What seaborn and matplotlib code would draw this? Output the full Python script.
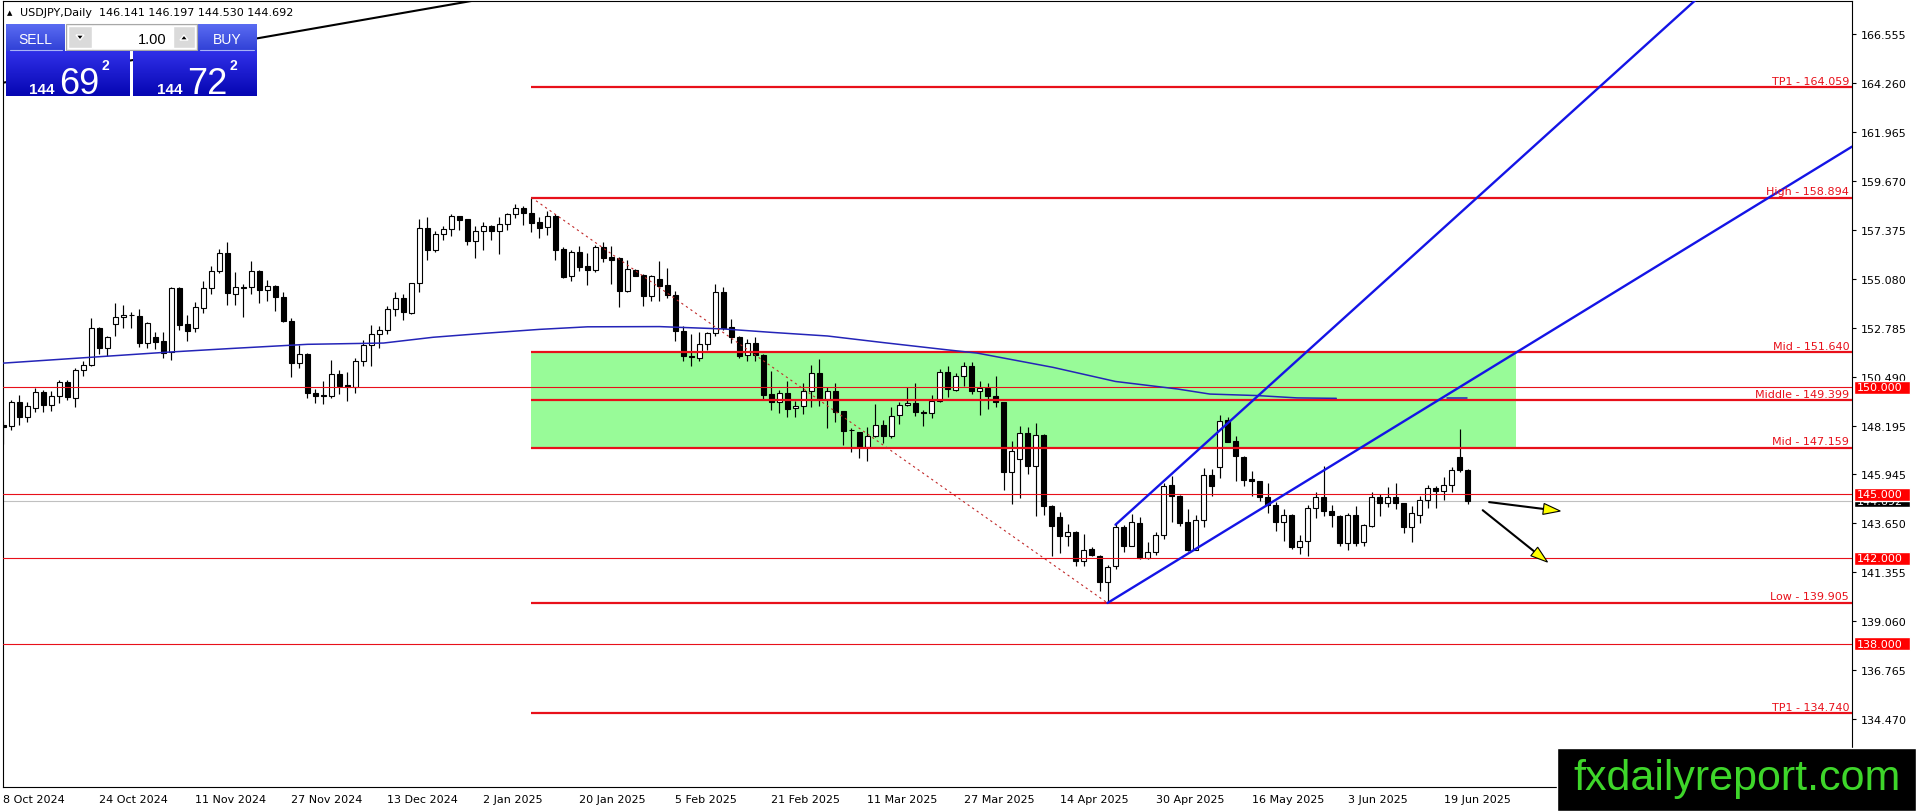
import numpy as np
import matplotlib
matplotlib.use("Agg")
import matplotlib.pyplot as plt
from matplotlib.patches import Rectangle, Polygon
from matplotlib.colors import LinearSegmentedColormap
import seaborn as sns

# USDJPY daily candles, bar 0 = 8 Oct 2024 ... bar 183 = 24 Jun 2025
opens = [148.24, 148.21, 149.30, 148.60, 149.02, 149.77, 149.19, 149.62, 150.24, 149.49,
         150.83, 151.07, 152.78, 151.83, 152.96, 153.28, 153.40, 153.36, 152.07, 152.35,
         152.16, 151.65, 154.67, 152.96, 152.77, 153.74, 154.64, 155.47, 156.30, 154.38,
         154.69, 154.69, 155.44, 154.56, 154.77, 154.22, 153.13, 151.13, 151.57, 149.74,
         149.63, 149.60, 150.61, 150.11, 150.04, 151.22, 151.99, 152.49, 152.69, 153.66,
         154.17, 153.47, 154.87, 157.47, 156.45, 157.17, 157.40, 158.01, 157.89, 156.87,
         157.31, 157.55, 157.34, 157.64, 158.11, 158.39, 158.15, 157.73, 157.50, 158.01,
         156.48, 155.20, 156.36, 155.67, 155.52, 156.56, 156.09, 156.05, 154.53, 155.52,
         155.27, 154.30, 155.08, 154.80, 154.35, 152.63, 151.49, 151.36, 152.02, 152.53,
         154.46, 152.82, 152.38, 151.52, 152.07, 151.52, 149.68, 149.30, 149.72, 149.02,
         149.12, 149.82, 150.66, 149.46, 149.82, 148.88, 148.03, 147.90, 147.20, 147.71,
         148.24, 147.74, 148.71, 149.18, 149.27, 148.85, 148.80, 149.35, 150.71, 149.90,
         150.55, 151.02, 149.82, 149.96, 149.62, 149.30, 146.06, 146.65, 147.85, 146.31,
         147.77, 144.43, 143.92, 143.03, 143.21, 141.86, 142.43, 142.12, 140.87, 141.62,
         143.45, 142.59, 143.65, 142.00, 142.31, 143.09, 145.43, 144.90, 143.68, 142.40,
         143.81, 145.92, 146.26, 148.47, 147.51, 146.76, 145.71, 145.60, 144.85, 144.51,
         143.68, 144.04, 142.51, 142.82, 144.34, 144.85, 144.20, 143.99, 142.70, 144.03,
         142.75, 143.53, 144.85, 144.57, 144.85, 144.57, 143.48, 144.03, 144.74, 145.27,
         145.13, 145.45, 146.73, 146.141]
highs = [148.44, 149.41, 149.65, 149.30, 149.96, 149.90, 149.82, 150.36, 150.35, 150.90,
         151.25, 153.24, 152.85, 152.43, 153.96, 153.88, 153.52, 153.67, 153.08, 152.58,
         152.58, 154.72, 154.72, 153.41, 153.99, 155.00, 155.70, 156.48, 156.80, 155.39,
         154.85, 155.91, 155.50, 155.05, 154.80, 154.49, 153.25, 151.99, 151.60, 149.93,
         150.29, 151.28, 150.82, 150.71, 151.38, 152.22, 152.92, 152.89, 153.83, 154.49,
         154.38, 154.90, 157.89, 157.97, 157.31, 157.56, 158.12, 158.05, 157.90, 157.58,
         157.73, 157.60, 158.00, 158.17, 158.59, 158.48, 158.894, 158.00, 158.25, 158.12,
         156.56, 156.44, 156.64, 156.28, 156.69, 156.80, 156.61, 156.10, 155.99, 155.55,
         155.30, 155.27, 155.94, 155.60, 154.50, 152.89, 152.50, 152.58, 152.61, 154.85,
         154.69, 153.21, 152.43, 152.27, 152.35, 151.55, 150.76, 149.88, 150.32, 149.38,
         150.19, 151.05, 151.33, 150.01, 150.21, 148.90, 148.09, 147.92, 148.13, 149.23,
         148.48, 149.07, 149.30, 150.01, 150.21, 148.96, 149.66, 150.86, 151.02, 150.66,
         151.18, 151.21, 150.29, 150.19, 150.52, 149.32, 147.48, 148.18, 148.13, 148.34,
         147.80, 144.49, 144.15, 143.60, 143.29, 143.14, 142.51, 142.14, 141.68, 143.60,
         143.57, 144.07, 143.92, 142.78, 143.21, 145.53, 145.87, 144.96, 144.31, 144.03,
         146.21, 146.18, 148.71, 148.60, 147.71, 146.81, 146.10, 145.62, 145.53, 144.62,
         144.31, 144.07, 143.09, 144.49, 145.09, 146.31, 144.49, 144.03, 144.10, 144.46,
         143.60, 145.09, 145.01, 145.32, 145.51, 144.60, 144.46, 144.93, 145.43, 145.40,
         145.79, 146.26, 148.05, 146.197]
lows = [147.35, 148.02, 148.26, 148.40, 148.83, 148.87, 148.91, 149.26, 149.41, 149.10,
        150.52, 151.02, 151.57, 151.46, 152.43, 152.80, 152.80, 151.88, 151.83, 151.80,
        151.36, 151.30, 152.71, 152.18, 152.58, 153.47, 154.38, 155.36, 153.88, 153.88,
        153.32, 154.38, 153.94, 154.03, 153.60, 153.05, 150.47, 150.91, 149.50, 149.26,
        149.24, 149.50, 149.69, 149.38, 149.72, 151.02, 151.02, 151.83, 152.50, 153.36,
        153.17, 153.44, 154.49, 155.98, 156.36, 156.92, 157.11, 157.39, 156.67, 156.05,
        156.45, 156.92, 156.25, 157.37, 157.94, 157.62, 157.26, 156.98, 157.16, 155.98,
        155.13, 155.00, 155.44, 154.81, 155.39, 155.86, 154.85, 153.75, 154.49, 155.20,
        153.83, 154.03, 154.03, 154.19, 152.16, 151.25, 150.99, 151.25, 151.77, 152.43,
        152.71, 152.08, 151.36, 151.25, 151.25, 149.46, 148.96, 148.82, 148.60, 148.60,
        148.76, 149.10, 149.15, 148.10, 148.40, 147.30, 146.96, 146.68, 146.57, 147.68,
        147.40, 147.62, 148.29, 149.12, 148.65, 148.21, 148.57, 149.30, 149.54, 149.85,
        150.08, 149.69, 148.73, 148.99, 149.10, 145.21, 144.54, 144.82, 145.95, 143.99,
        144.04, 142.09, 142.23, 142.59, 141.65, 141.62, 142.12, 140.48, 139.905, 141.50,
        142.28, 142.55, 141.98, 141.98, 142.15, 142.90, 143.71, 143.53, 142.36, 142.38,
        143.45, 144.90, 145.74, 147.43, 145.63, 145.40, 144.93, 144.70, 144.10, 143.29,
        142.82, 142.43, 142.20, 142.12, 143.87, 143.96, 143.45, 142.59, 142.40, 142.59,
        142.59, 143.45, 143.99, 144.38, 144.31, 143.18, 142.78, 143.65, 144.34, 144.34,
        144.74, 145.12, 146.03, 144.530]
closes = [148.13, 149.30, 148.60, 149.15, 149.77, 149.19, 149.62, 150.24, 149.54, 150.83,
          151.07, 152.77, 151.83, 152.38, 153.28, 153.39, 153.37, 152.07, 153.00, 152.15,
          151.61, 154.64, 152.93, 152.66, 153.75, 154.64, 155.47, 156.30, 154.41, 154.69,
          154.67, 155.44, 154.56, 154.77, 154.22, 153.13, 151.13, 151.55, 149.72, 149.61,
          149.62, 150.61, 150.07, 150.04, 151.22, 151.99, 152.49, 152.69, 153.66, 154.17,
          153.52, 154.87, 157.45, 156.45, 157.17, 157.40, 158.01, 157.86, 156.87, 157.34,
          157.55, 157.34, 157.64, 158.11, 158.39, 158.15, 157.72, 157.48, 158.01, 156.45,
          155.19, 156.36, 155.66, 155.52, 156.56, 156.06, 155.99, 154.53, 155.55, 155.24,
          154.30, 155.24, 154.74, 154.35, 152.63, 151.46, 151.43, 152.04, 152.53, 154.46,
          152.78, 152.35, 151.49, 152.07, 151.52, 149.65, 149.30, 149.72, 148.99, 149.12,
          149.82, 150.66, 149.46, 149.82, 148.87, 147.98, 148.00, 147.20, 147.71, 148.24,
          147.74, 148.65, 149.18, 149.27, 148.83, 148.82, 149.35, 150.71, 149.93, 150.55,
          151.02, 149.85, 149.96, 149.62, 149.30, 146.06, 147.01, 147.85, 146.31, 147.77,
          144.43, 143.49, 143.03, 143.21, 141.86, 142.40, 142.17, 140.87, 141.57, 143.45,
          142.59, 143.68, 142.00, 142.31, 143.09, 145.37, 144.93, 143.65, 142.40, 143.81,
          145.92, 145.37, 148.44, 147.46, 146.77, 145.68, 145.63, 144.85, 144.49, 143.68,
          144.03, 142.54, 142.82, 144.34, 144.85, 144.20, 144.04, 142.70, 144.03, 142.70,
          143.56, 144.85, 144.57, 144.85, 144.57, 143.48, 144.10, 144.74, 145.27, 145.13,
          145.45, 146.13, 146.15, 144.692]

date_labels = ["8 Oct 2024", "24 Oct 2024", "11 Nov 2024", "27 Nov 2024", "13 Dec 2024",
               "2 Jan 2025", "20 Jan 2025", "5 Feb 2025", "21 Feb 2025", "11 Mar 2025",
               "27 Mar 2025", "14 Apr 2025", "30 Apr 2025", "16 May 2025", "3 Jun 2025",
               "19 Jun 2025"]
date_bars = list(range(0, 181, 12))
price_ticks = [166.555, 164.260, 161.965, 159.670, 157.375, 155.080, 152.785, 150.490,
               148.195, 145.945, 143.650, 141.355, 139.060, 136.765, 134.470]

# moving average and its short tail segment
ma_bars = [0, 10.8, 20.4, 28.7, 38, 47.5, 53.7, 59.9, 67, 73, 82, 90, 96, 103, 110,
           118, 121.7, 131.2, 139, 146.7, 150.8, 156.7, 161.7, 166.6]
ma_vals = [151.14, 151.41, 151.65, 151.83, 152.02, 152.08, 152.35, 152.53, 152.72, 152.84,
           152.85, 152.74, 152.58, 152.41, 152.10, 151.76, 151.61, 150.94, 150.28, 149.93,
           149.69, 149.62, 149.51, 149.49]
ma_tail_bars = [180.4, 182.9]
ma_tail_vals = [149.51, 149.51]

# fibonacci objects
fib_names = ["TP1", "High", "Mid", "Middle", "Mid", "Low", "TP1"]
fib_levels = [164.059, 158.894, 151.640, 149.399, 147.159, 139.905, 134.740]
fib_start = 66
zone_bars = [66, 189]
zone_levels = [147.159, 151.640]
round_levels = [150.000, 145.000, 142.000, 138.000]
bid_price = 144.692

# trend lines: two anchor points each (bar, price)
diag_pts = [(66, 158.894), (138, 139.905)]
lower_pts = [(138, 139.905), (231.06, 161.28)]
upper_pts = [(139, 143.57), (159.15, 150.40)]
black_pts = [(32.0, 166.37), (58.0, 168.07)]
arrow_tails = [(185.7, 144.63), (184.9, 144.25)]
arrow_tips = [(194.6, 144.21), (193.0, 141.82)]

# trade panel quotes
sell_quote = ["144", "69", "2"]
buy_quote = ["144", "72", "2"]
lot_size = "1.00"
header = "USDJPY,Daily  146.141 146.197 144.530 144.692"

W, H = 1916, 812
sns.set_style("white")
plt.rcParams['font.family'] = ['DejaVu Sans']
arial = ['Liberation Sans', 'DejaVu Sans']

fig = plt.figure(figsize=(W / 100, H / 100), dpi=100)
ax = fig.add_axes([3 / W, 1 - 788 / H, (1852 - 3) / W, (788 - 2) / H])
x0, x1 = -0.06, 231.06
y0, y1 = 131.285, 168.101
ax.set_xlim(x0, x1)
ax.set_ylim(y0, y1)

o = np.array(opens); h = np.array(highs); l = np.array(lows); c = np.array(closes)
xb = np.arange(len(o))
up = c >= o
lo_b = np.minimum(o, c)
hb = np.maximum(np.abs(c - o), 0.02)

RED = '#e8101a'
# zone
ax.add_patch(Rectangle((zone_bars[0], zone_levels[0]), zone_bars[1] - zone_bars[0],
                       zone_levels[1] - zone_levels[0], facecolor='#98fb98', edgecolor='none', zorder=0.5))

# candles
ax.vlines(xb, l, h, color='black', lw=0.85, zorder=2)
ax.bar(xb[up], hb[up], bottom=lo_b[up], width=0.6, facecolor='white', edgecolor='black', lw=0.8, zorder=3)
ax.bar(xb[~up], hb[~up], bottom=lo_b[~up], width=0.6, facecolor='black', edgecolor='black', lw=0.8, zorder=3)

# horizontal levels
ax.axhline(bid_price, color='#c0c0c0', lw=0.8, zorder=1)
for v in round_levels:
    ax.axhline(v, color=RED, lw=0.8, zorder=4)
for name, v in zip(fib_names, fib_levels):
    ax.plot([fib_start, x1], [v, v], color=RED, lw=1.6, zorder=4, solid_capstyle='butt')
    ax.text(x1 - 0.35, v + 0.31, f"{name} - {v:.3f}", color=RED, fontsize=8,
            ha='right', va='center', zorder=6)

# moving average
sns.lineplot(x=ma_bars, y=ma_vals, ax=ax, color='#2424b8', lw=1.1, zorder=4)
sns.lineplot(x=ma_tail_bars, y=ma_tail_vals, ax=ax, color='#2424b8', lw=1.1, zorder=4)

# trend lines
ax.plot([p[0] for p in diag_pts], [p[1] for p in diag_pts], color='#c02828', lw=0.8,
        linestyle=(0, (2, 3)), zorder=4)
ax.plot([p[0] for p in lower_pts], [p[1] for p in lower_pts], color='#1414e6', lw=1.7, zorder=5)
s_up = (upper_pts[1][1] - upper_pts[0][1]) / (upper_pts[1][0] - upper_pts[0][0])
ax.plot([upper_pts[0][0], 240], [upper_pts[0][1], upper_pts[0][1] + s_up * (240 - upper_pts[0][0])],
        color='#1414e6', lw=1.7, zorder=5)
s_bk = (black_pts[1][1] - black_pts[0][1]) / (black_pts[1][0] - black_pts[0][0])
ax.plot([-5, 80], [black_pts[0][1] + s_bk * (-5 - black_pts[0][0]),
                   black_pts[0][1] + s_bk * (80 - black_pts[0][0])], color='black', lw=1.5, zorder=5)
ax.set_xlim(x0, x1)
ax.set_ylim(y0, y1)

# axes styling
ax.set_xticks(date_bars)
ax.set_xticklabels(date_labels, ha='left')
ax.yaxis.tick_right()
ax.set_yticks(price_ticks)
ax.set_yticklabels([f"{v:.3f}" for v in price_ticks])
ax.tick_params(axis='x', length=3, pad=2, labelsize=8, colors='black', width=0.8)
ax.tick_params(axis='y', length=3, pad=3, labelsize=8, colors='black', width=0.8)
ax.set_xlabel(""); ax.set_ylabel("")
for sp in ax.spines.values():
    sp.set_color('black'); sp.set_linewidth(0.8)
ax.grid(False)

# overlay in pixel coordinates (y grows downward)
ov = fig.add_axes([0, 0, 1, 1])
ov.set_zorder(10)
ov.patch.set_alpha(0)
ov.axis('off')


def to_px(bx, py):
    dx, dy = ax.transData.transform((bx, py))
    return dx, H - dy


def grad_box(xa, ya, xb_, yb, ctop, cbot):
    cmap = LinearSegmentedColormap.from_list('g', [ctop, cbot])
    ov.imshow(np.linspace(0, 1, 64).reshape(-1, 1), extent=(xa, xb_, yb, ya), cmap=cmap,
              aspect='auto', interpolation='bilinear', zorder=2)


# arrows
for (tx, ty), (hx, hy) in zip(arrow_tails, arrow_tips):
    px0, py0 = to_px(tx, ty)
    px1, py1 = to_px(hx, hy)
    d = np.array([px1 - px0, py1 - py0]); d /= np.hypot(*d)
    n = np.array([-d[1], d[0]])
    base = np.array([px1, py1]) - 17 * d
    ov.plot([px0, base[0]], [py0, base[1]], color='black', lw=1.5, zorder=3)
    ov.add_patch(Polygon([[px1, py1], base + 5.5 * n, base - 5.5 * n], closed=True,
                         facecolor='#ffff00', edgecolor='black', lw=0.8, zorder=4))

# right-axis price boxes
_, yb_px = to_px(0, bid_price)
ov.add_patch(Rectangle((1854, yb_px - 6.5), 56, 13, facecolor='black', zorder=3))
ov.text(1857, yb_px, f"{bid_price:.3f}", color='white', fontsize=8, va='center', zorder=4)
for v in round_levels:
    _, yp = to_px(0, v)
    ov.add_patch(Rectangle((1854, yp - 6.5), 56, 13, facecolor='#ff0000', zorder=5))
    ov.text(1857, yp, f"{v:.3f}", color='white', fontsize=8, va='center', zorder=6)

# header
ov.text(7, 13.5, "\u25b2", fontsize=5, va='center', ha='left', color='black')
ov.text(20, 13.5, header, fontsize=8, va='center', ha='left', color='black')

# trade panel
grad_box(6.5, 25, 65, 52, '#5a6cf2', '#3040d6')
grad_box(197, 25, 257, 52, '#5a6cf2', '#3040d6')
ov.plot([10, 62], [51.3, 51.3], color='#a8b2f6', lw=0.8, zorder=3)
ov.plot([200, 254], [51.3, 51.3], color='#a8b2f6', lw=0.8, zorder=3)
ov.text(35.8, 39.5, "SELL", color='white', fontsize=10, family=arial, ha='center', va='center', zorder=4)
ov.text(226.8, 39.5, "BUY", color='white', fontsize=10, family=arial, ha='center', va='center', zorder=4)
ov.add_patch(Rectangle((66, 25), 131, 26, facecolor='#ececec', edgecolor='#a8a8a8', lw=0.8, zorder=2))
ov.add_patch(Rectangle((68, 27), 24, 22, facecolor='#dadada', zorder=3))
ov.add_patch(Rectangle((93, 27), 79, 22, facecolor='white', zorder=3))
ov.add_patch(Rectangle((173, 27), 22, 22, facecolor='#dadada', zorder=3))
ov.add_patch(Polygon([[76, 36], [84, 36], [80, 41]], closed=True, facecolor='black', zorder=4))
ov.add_patch(Polygon([[180, 41], [188, 41], [184, 36]], closed=True, facecolor='black', zorder=4))
ov.text(167, 39.5, lot_size, color='black', fontsize=10.5, family=arial, ha='right', va='center', zorder=4)

grad_box(6.5, 52, 130.5, 97, '#3030e8', '#0606b2')
grad_box(133, 52, 257, 97, '#3030e8', '#0606b2')
for bx, q in [(29, sell_quote), (157, buy_quote)]:
    ov.text(bx, 94.5, q[0], color='white', fontsize=11, weight='bold', family=arial,
            ha='left', va='baseline', zorder=4)
    ov.text(bx + 30, 94.5, q[1], color='white', fontsize=26, family=arial,
            ha='left', va='baseline', zorder=4)
    ov.text(bx + 73, 70.5, q[2], color='white', fontsize=10, weight='bold', family=arial,
            ha='left', va='baseline', zorder=4)

# watermark
ov.add_patch(Rectangle((1557, 749), W - 1557, H - 749, facecolor='black', zorder=7))
ov.text(1737, 790, "fxdailyreport.com", color='#3ed62a', fontsize=31,
        family=arial, ha='center', va='baseline', zorder=8)

ov.set_xlim(0, W)
ov.set_ylim(H, 0)

fig.savefig("out.png", dpi=100)
